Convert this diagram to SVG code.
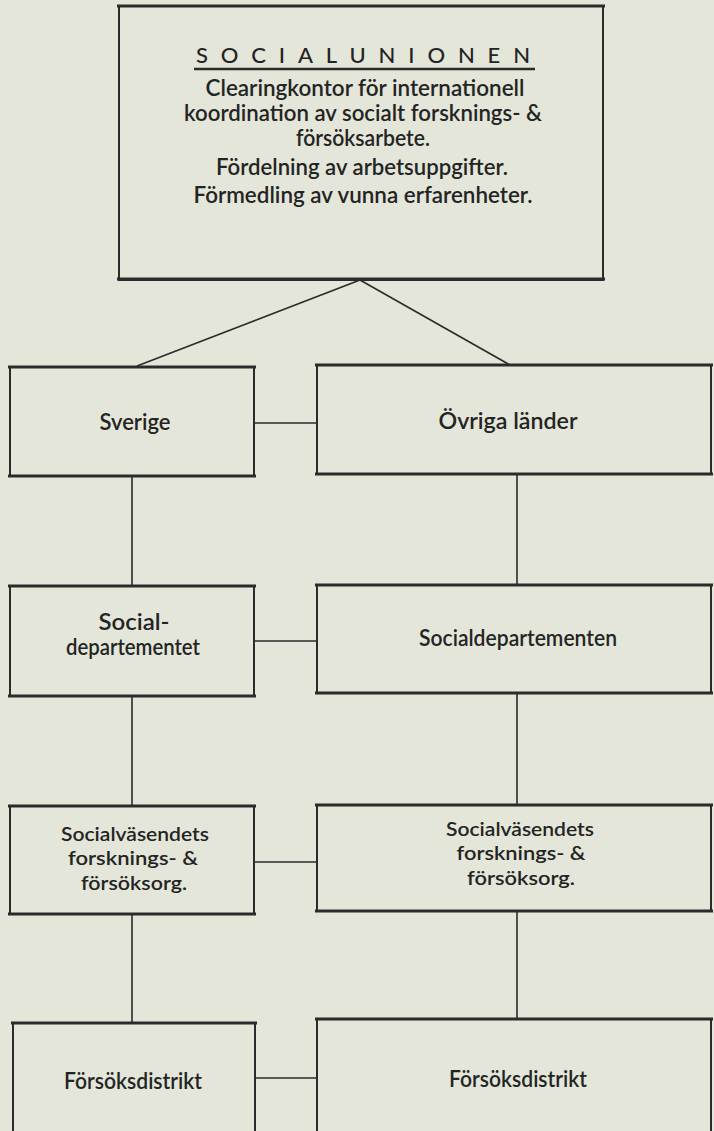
<svg xmlns="http://www.w3.org/2000/svg" width="714" height="1131" viewBox="0 0 714 1131">
<style>
.bg{fill:#e3e6d9}
.box{fill:none;stroke:#2b2b2b;stroke-width:2}
.edge{stroke:#2b2b2b;stroke-width:3.2;fill:none}
.con{stroke:#2b2b2b;stroke-width:1.6;fill:none}
text{font-family:Lato,"Liberation Sans",sans-serif;font-size:22px;font-weight:600;fill:#242424;text-anchor:middle}
.title{font-size:22px;font-weight:500}
.sm{font-size:20px}
</style>
<rect class="bg" x="0" y="0" width="714" height="1131"/>
<g id="connectors">
<path class="con" d="M360 280 L137 366 M360 280 L510 365"/>
<path class="con" d="M254 423 H317 M254 641 H317 M254 862 H317 M255 1078 H317"/>
<path class="con" d="M132 476 V586 M132 696 V806 M132 914 V1023"/>
<path class="con" d="M517 474 V585 M517 693 V805 M517 911 V1019"/>
</g>
<g id="socialunionen">
<rect class="box" x="119" y="6" width="484" height="274"/>
<path class="edge" d="M117 6 H605 M117 279 H605"/>
<text class="title" x="363" y="63" textLength="334" lengthAdjust="spacing">SOCIALUNIONEN</text>
<path class="edge" d="M194 69 H535" style="stroke-width:2.4"/>
<text x="365" y="96" textLength="319" lengthAdjust="spacingAndGlyphs">Clearingkontor för internationell</text>
<text x="363" y="121" textLength="358" lengthAdjust="spacingAndGlyphs">koordination av socialt forsknings- &amp;</text>
<text x="363" y="146" textLength="134" lengthAdjust="spacingAndGlyphs">försöksarbete.</text>
<text x="362" y="175" textLength="292" lengthAdjust="spacingAndGlyphs">Fördelning av arbetsuppgifter.</text>
<text x="363" y="203" textLength="339" lengthAdjust="spacingAndGlyphs">Förmedling av vunna erfarenheter.</text>
</g>
<g id="sverige">
<rect class="box" x="10" y="367" width="244" height="109"/>
<path class="edge" d="M8 367 H256 M8 476 H256"/>
<text x="135" y="430" textLength="71" lengthAdjust="spacingAndGlyphs">Sverige</text>
</g>
<g id="ovriga-lander">
<rect class="box" x="317" y="365" width="394" height="109"/>
<path class="edge" d="M315 365 H713 M315 474 H713"/>
<text x="508" y="429" textLength="139" lengthAdjust="spacingAndGlyphs">Övriga länder</text>
</g>
<g id="socialdepartementet">
<rect class="box" x="10" y="586" width="244" height="110"/>
<path class="edge" d="M8 586 H256 M8 696 H256"/>
<text x="134" y="630" textLength="71" lengthAdjust="spacingAndGlyphs">Social-</text>
<text x="133" y="655" textLength="134" lengthAdjust="spacingAndGlyphs">departementet</text>
</g>
<g id="socialdepartementen">
<rect class="box" x="317" y="585" width="394" height="108"/>
<path class="edge" d="M315 585 H713 M315 693 H713"/>
<text x="518" y="646" textLength="198" lengthAdjust="spacingAndGlyphs">Socialdepartementen</text>
</g>
<g id="forskningsorg-sverige">
<rect class="box" x="10" y="806" width="244" height="108"/>
<path class="edge" d="M8 806 H256 M8 914 H256"/>
<text class="sm" x="135" y="841" textLength="148" lengthAdjust="spacingAndGlyphs">Socialväsendets</text>
<text class="sm" x="133" y="865" textLength="130" lengthAdjust="spacingAndGlyphs">forsknings- &amp;</text>
<text class="sm" x="134" y="890" textLength="106" lengthAdjust="spacingAndGlyphs">försöksorg.</text>
</g>
<g id="forskningsorg-ovriga">
<rect class="box" x="317" y="805" width="394" height="106"/>
<path class="edge" d="M315 805 H713 M315 911 H713"/>
<text class="sm" x="520" y="836" textLength="148" lengthAdjust="spacingAndGlyphs">Socialväsendets</text>
<text class="sm" x="521" y="860" textLength="129" lengthAdjust="spacingAndGlyphs">forsknings- &amp;</text>
<text class="sm" x="521" y="885" textLength="108" lengthAdjust="spacingAndGlyphs">försöksorg.</text>
</g>
<g id="forsoksdistrikt-sverige">
<path class="box" d="M13 1140 V1023 H255 V1140"/>
<path class="edge" d="M11 1023 H257"/>
<text x="133" y="1089" textLength="138" lengthAdjust="spacingAndGlyphs">Försöksdistrikt</text>
</g>
<g id="forsoksdistrikt-ovriga">
<path class="box" d="M317 1140 V1019 H711 V1140"/>
<path class="edge" d="M315 1019 H713"/>
<text x="518" y="1087" textLength="138" lengthAdjust="spacingAndGlyphs">Försöksdistrikt</text>
</g>
</svg>
